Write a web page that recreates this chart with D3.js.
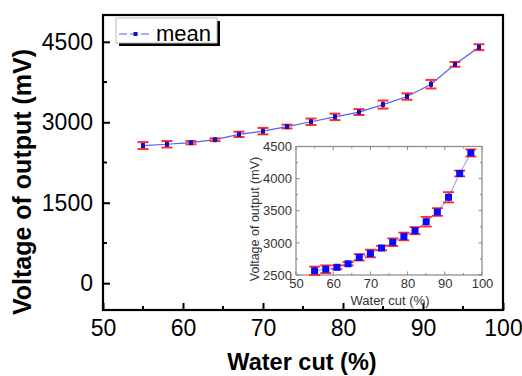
<!DOCTYPE html>
<html>
<head>
<meta charset="utf-8">
<script src="https://cdn.jsdelivr.net/npm/d3@7"></script>
<style>
  body { margin: 0; background: #fff; }
  svg { font-family: "Liberation Sans", Arial, sans-serif; }
</style>
</head>
<body>
<svg id="chart" width="522" height="376"></svg>
<script>
// data
const waterCut = [55, 58, 61, 64, 67, 70, 73, 76, 79, 82, 85, 88, 91, 94, 97];
const voltage = [2566, 2590, 2620, 2675, 2775, 2835, 2920, 3010, 3100, 3190, 3330, 3480, 3710, 4080, 4400];
const errors = [65, 60, 30, 25, 50, 60, 35, 60, 60, 55, 75, 60, 80, 45, 55];
const mainYTicks = [0, 1500, 3000, 4500];
const mainXTicks = [50, 60, 70, 80, 90, 100];
const insetYTicks = [2500, 3000, 3500, 4000, 4500];
const insetXTicks = [50, 60, 70, 80, 90, 100];

const pts = waterCut.map((x, i) => ({x: x, y: voltage[i], e: errors[i]}));
const svg = d3.select("#chart");
const fmt = d3.format("d");

// ---- main plot
const x = d3.scaleLinear().domain([50, 100]).range([103, 503]);
const y = d3.scaleLinear().domain([-500, 5000]).range([310, 15]);

const main = svg.append("g");

// minor ticks (inside)
main.append("g").selectAll("line")
  .data(d3.range(55, 100, 10))
  .join("line")
  .attr("x1", d => x(d)).attr("x2", d => x(d))
  .attr("y1", 310).attr("y2", 306)
  .attr("stroke", "#000").attr("stroke-width", 2);
main.append("g").selectAll("line")
  .data([750, 2250, 3750])
  .join("line")
  .attr("x1", 103).attr("x2", 107)
  .attr("y1", d => y(d)).attr("y2", d => y(d))
  .attr("stroke", "#000").attr("stroke-width", 2);

const xAxis = main.append("g")
  .attr("transform", "translate(0,310)")
  .call(d3.axisBottom(x).tickValues(mainXTicks).tickFormat(fmt).tickSizeInner(-7).tickSizeOuter(0).tickPadding(10));
const yAxis = main.append("g")
  .attr("transform", "translate(103,0)")
  .call(d3.axisLeft(y).tickValues(mainYTicks).tickFormat(fmt).tickSizeInner(-7).tickSizeOuter(0).tickPadding(10));
[xAxis, yAxis].forEach(a => {
  a.select(".domain").remove();
  a.selectAll(".tick line").attr("stroke", "#000").attr("stroke-width", 2);
  a.selectAll("text").attr("font-size", 23).attr("fill", "#000");
});

// frame
main.append("rect")
  .attr("x", 103).attr("y", 15).attr("width", 400).attr("height", 295)
  .attr("fill", "none").attr("stroke", "#000").attr("stroke-width", 2.2);

main.append("text")
  .attr("x", 302).attr("y", 370)
  .attr("text-anchor", "middle")
  .attr("font-size", 23.5).attr("font-weight", "bold")
  .text("Water cut (%)");
main.append("text")
  .attr("transform", "translate(31,182) rotate(-90)")
  .attr("text-anchor", "middle")
  .attr("font-size", 25).attr("font-weight", "bold")
  .text("Voltage of output (mV)");

// data
main.append("path")
  .datum(pts)
  .attr("fill", "none").attr("stroke", "#5a5aff").attr("stroke-width", 1.2)
  .attr("d", d3.line().x(d => x(d.x)).y(d => y(d.y)));

function errorBars(g, xs, ys, capW, sw, color) {
  const eb = g.append("g").selectAll("g").data(pts).join("g");
  eb.append("line")
    .attr("x1", d => xs(d.x)).attr("x2", d => xs(d.x))
    .attr("y1", d => ys(d.y - d.e)).attr("y2", d => ys(d.y + d.e))
    .attr("stroke", color).attr("stroke-width", sw);
  [-1, 1].forEach(s => {
    eb.append("line")
      .attr("x1", d => xs(d.x) - capW / 2).attr("x2", d => xs(d.x) + capW / 2)
      .attr("y1", d => ys(d.y + s * d.e)).attr("y2", d => ys(d.y + s * d.e))
      .attr("stroke", color).attr("stroke-width", sw);
  });
}
errorBars(main, x, y, 11, 2, "#ff3030");
main.append("g").selectAll("rect")
  .data(pts)
  .join("rect")
  .attr("x", d => x(d.x) - 2).attr("y", d => y(d.y) - 2.5)
  .attr("width", 4).attr("height", 5)
  .attr("fill", "#1010c0");

// legend
const leg = main.append("g");
leg.append("rect").attr("x", 119).attr("y", 21).attr("width", 101).attr("height", 25).attr("fill", "#000");
leg.append("rect").attr("x", 116).attr("y", 18).attr("width", 101).attr("height", 25)
  .attr("fill", "#fff").attr("stroke", "#bbb").attr("stroke-width", 1);
leg.append("line").attr("x1", 119).attr("x2", 152).attr("y1", 34).attr("y2", 34)
  .attr("stroke", "#5a5aff").attr("stroke-width", 1.2).attr("stroke-dasharray", "8,3");
leg.append("rect").attr("x", 133.5).attr("y", 32).attr("width", 4).attr("height", 4).attr("fill", "#1010c0");
leg.append("text").attr("x", 156).attr("y", 41).attr("font-size", 22).text("mean");

// ---- inset
const xi = d3.scaleLinear().domain([50, 100]).range([296, 482]);
const yi = d3.scaleLinear().domain([2500, 4500]).range([275, 146.5]);
const inset = svg.append("g");
inset.append("rect")
  .attr("x", 296).attr("y", 146.5).attr("width", 186).attr("height", 128.5)
  .attr("fill", "#fff").attr("stroke", "#888").attr("stroke-width", 1.2);

const minorX = d3.range(50, 101, 5), minorY = d3.range(2500, 4501, 250);
[[275, -1], [146.5, 1]].forEach(([yy, dir]) => {
  inset.append("g").selectAll("line").data(minorX).join("line")
    .attr("x1", d => xi(d)).attr("x2", d => xi(d))
    .attr("y1", yy).attr("y2", d => yy + dir * (d % 10 === 0 ? 3.5 : 2))
    .attr("stroke", "#888");
});
[[296, 1], [482, -1]].forEach(([xx, dir]) => {
  inset.append("g").selectAll("line").data(minorY).join("line")
    .attr("y1", d => yi(d)).attr("y2", d => yi(d))
    .attr("x1", xx).attr("x2", d => xx + dir * (d % 500 === 0 ? 3.5 : 2))
    .attr("stroke", "#888");
});

const xiAxis = inset.append("g").attr("transform", "translate(0,275)")
  .call(d3.axisBottom(xi).tickValues(insetXTicks).tickFormat(fmt).tickSize(0).tickPadding(4));
const yiAxis = inset.append("g").attr("transform", "translate(296,0)")
  .call(d3.axisLeft(yi).tickValues(insetYTicks).tickFormat(fmt).tickSize(0).tickPadding(4));
[xiAxis, yiAxis].forEach(a => {
  a.select(".domain").remove();
  a.selectAll("text").attr("font-size", 13).attr("fill", "#333");
});
inset.append("text")
  .attr("x", 390).attr("y", 305)
  .attr("text-anchor", "middle").attr("font-size", 13).attr("fill", "#333")
  .text("Water cut (%)");
inset.append("text")
  .attr("transform", "translate(259,219) rotate(-90)")
  .attr("text-anchor", "middle").attr("font-size", 12.5).attr("fill", "#333")
  .text("Voltage of output (mV)");

inset.append("path")
  .datum(pts)
  .attr("fill", "none").attr("stroke", "#a8a8f0").attr("stroke-width", 1.2)
  .attr("d", d3.line().x(d => xi(d.x)).y(d => yi(d.y)));
errorBars(inset, xi, yi, 11, 1.8, "#ff2828");
inset.append("g").selectAll("rect")
  .data(pts)
  .join("rect")
  .attr("x", d => xi(d.x) - 3.5).attr("y", d => yi(d.y) - 3.5)
  .attr("width", 7).attr("height", 7)
  .attr("fill", "#0a0aff");
</script>
</body>
</html>
